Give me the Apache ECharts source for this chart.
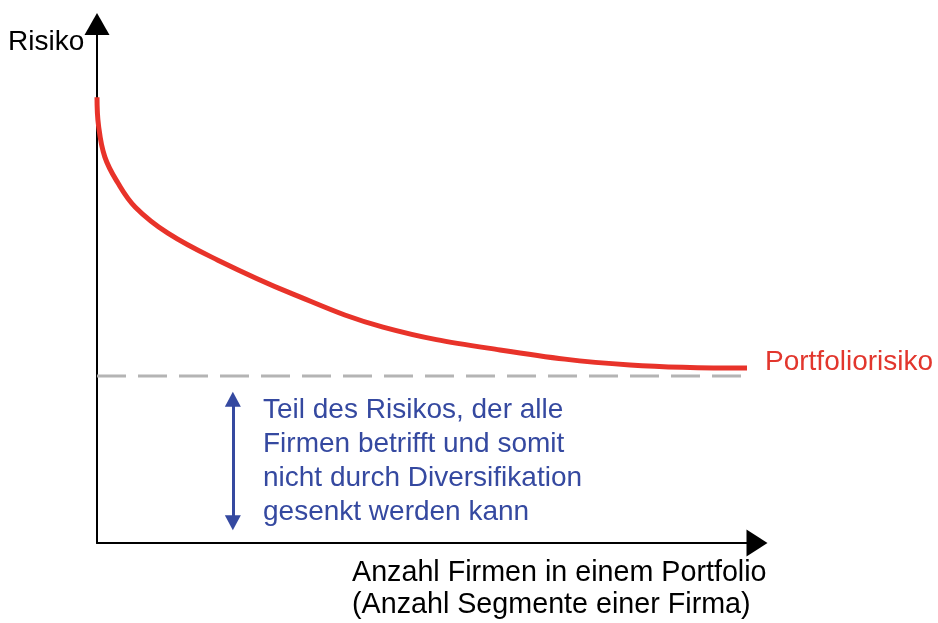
<!DOCTYPE html>
<html>
<head>
<meta charset="utf-8">
<script src="https://cdn.jsdelivr.net/npm/echarts@6/dist/echarts.min.js"></script>
<style>
html,body{margin:0;padding:0;background:#fff;}
#chart{width:938px;height:623px;}
</style>
</head>
<body>
<div id="chart"></div>
<script>
// Portfolio risk curve (x: number of firms, relative scale 0-100; y: risk, relative scale 0-100)
const firmsX = [0, 0.23, 1.2, 3.2, 5.9, 10.9, 18.6, 29.7, 44.0, 62.0, 82.0, 100];
const riskY  = [85.9, 80.5, 74.4, 69.4, 64.7, 59.7, 54.5, 48.2, 41.6, 37.2, 34.3, 33.7];
// Systematic (non-diversifiable) risk level
const baselineX = [0, 100];
const baselineY = [32.2, 32.2];
// Double arrow marking the systematic risk
const arrowX = 20.9;
const arrowRange = [27.7, 3.9];

const yAxisTitle = 'Risiko';
const xAxisTitleLines = ['Anzahl Firmen in einem Portfolio', '(Anzahl Segmente einer Firma)'];
const curveLabel = 'Portfoliorisiko';
const noteLines = ['Teil des Risikos, der alle', 'Firmen betrifft und somit', 'nicht durch Diversifikation', 'gesenkt werden kann'];

const FONT = '"Liberation Sans", Arial, Helvetica, sans-serif';

const chart = echarts.init(document.getElementById('chart'));

const graphics = [];
graphics.push({
  type: 'text', x: 8, y: 42,
  style: { text: yAxisTitle, font: '28px ' + FONT, fill: '#000', verticalAlign: 'middle', align: 'left' }
});
xAxisTitleLines.forEach((t, i) => {
  graphics.push({
    type: 'text', x: 352, y: 573 + i * 32,
    style: { text: t, font: '28.7px ' + FONT, fill: '#000', verticalAlign: 'middle', align: 'left' }
  });
});
noteLines.forEach((t, i) => {
  graphics.push({
    type: 'text', x: 263, y: 410 + i * 34,
    style: { text: t, font: '28px ' + FONT, fill: '#3549a0', verticalAlign: 'middle', align: 'left' }
  });
});

chart.setOption({
  animation: false,
  backgroundColor: '#fff',
  grid: { left: 97, right: 191, top: 24, bottom: 80, containLabel: false },
  xAxis: {
    type: 'value', min: 0, max: 100,
    axisLine: { show: true, onZero: false, lineStyle: { color: '#000', width: 2 },
      symbol: ['none', 'triangle'], symbolSize: [27, 21], symbolOffset: [0, 10] },
    axisTick: { show: false }, axisLabel: { show: false }, splitLine: { show: false }
  },
  yAxis: {
    type: 'value', min: 0, max: 100,
    axisLine: { show: true, onZero: false, lineStyle: { color: '#000', width: 2 },
      symbol: ['none', 'triangle'], symbolSize: [25, 22] },
    axisTick: { show: false }, axisLabel: { show: false }, splitLine: { show: false }
  },
  series: [
    {
      type: 'line',
      data: baselineX.map((x, i) => [x, baselineY[i]]),
      showSymbol: false,
      lineStyle: { color: '#b4b4b4', width: 3, type: [29, 12] },
      silent: true,
      z: 2,
      markLine: {
        silent: true,
        symbol: ['triangle', 'triangle'],
        symbolSize: [16, 15],
        label: { show: false },
        lineStyle: { color: '#3549a0', width: 3, type: 'solid' },
        data: [[{ coord: [arrowX, arrowRange[0]] }, { coord: [arrowX, arrowRange[1]] }]]
      }
    },
    {
      type: 'line',
      data: firmsX.map((x, i) => [x, riskY[i]]),
      smooth: 0.4,
      showSymbol: false,
      lineStyle: { color: '#e8332a', width: 5, cap: 'butt' },
      z: 3,
      endLabel: {
        show: true,
        formatter: curveLabel,
        distance: 18,
        offset: [0, -6],
        color: '#e2362d',
        fontSize: 28,
        fontFamily: FONT
      }
    }
  ],
  graphic: graphics
});
</script>
</body>
</html>
